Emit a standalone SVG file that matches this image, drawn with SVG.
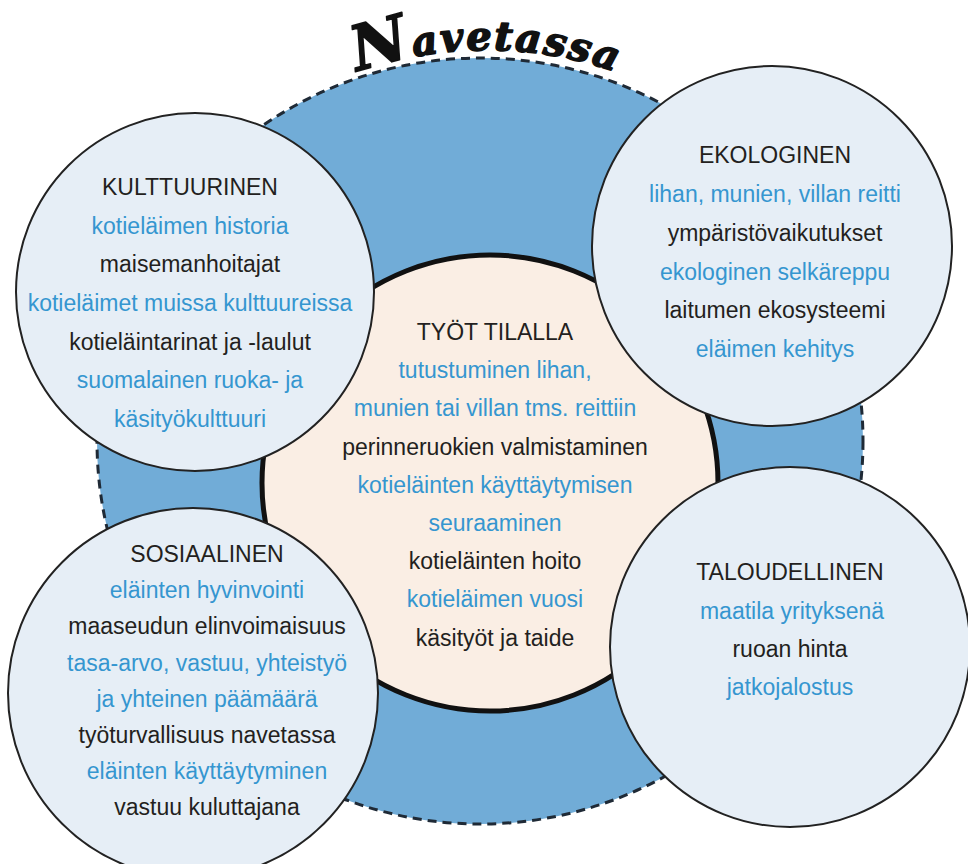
<svg xmlns="http://www.w3.org/2000/svg" width="968" height="864" viewBox="0 0 968 864">
<style>
.t{font-family:"Liberation Sans",Arial,sans-serif;font-size:23px;text-anchor:middle}
.k{fill:#231f20}
.b{fill:#3596d0}
.sat{fill:#e6eef6;stroke:#222;stroke-width:2}
.title{font-family:"DejaVu Serif",serif;font-weight:bold;font-style:italic;fill:#111;stroke:#111;stroke-width:1.6;stroke-linejoin:round}
</style>
<defs>
<path id="arc" d="M 96,441 A 391,391 0 0 1 878,441"/>
</defs>
<rect width="968" height="864" fill="#fff"/>
<g id="ring">
<circle cx="480" cy="441" r="383" fill="#71acd7" stroke="#1f2a36" stroke-width="3" stroke-dasharray="9 6"/>
</g>
<g id="title">
<text class="title" font-size="40" letter-spacing="2"><textPath href="#arc" startOffset="50%" text-anchor="middle"><tspan font-size="62">N</tspan>avetassa</textPath></text>
</g>
<g id="center">
<circle cx="490" cy="483" r="228" fill="#faeee4" stroke="#111" stroke-width="5"/>
<text class="t"><tspan class="k" x="495" y="340">TYÖT TILALLA</tspan><tspan class="b" x="495" y="378">tutustuminen lihan,</tspan><tspan class="b" x="495" y="416">munien tai villan tms. reittiin</tspan><tspan class="k" x="495" y="455">perinneruokien valmistaminen</tspan><tspan class="b" x="495" y="493">kotieläinten käyttäytymisen</tspan><tspan class="b" x="495" y="531">seuraaminen</tspan><tspan class="k" x="495" y="569">kotieläinten hoito</tspan><tspan class="b" x="495" y="607">kotieläimen vuosi</tspan><tspan class="k" x="495" y="646">käsityöt ja taide</tspan></text>
</g>
<g id="kulttuurinen">
<circle class="sat" cx="195" cy="292" r="179"/>
<text class="t"><tspan class="k" x="190" y="195">KULTTUURINEN</tspan><tspan class="b" x="190" y="234">kotieläimen historia</tspan><tspan class="k" x="190" y="272">maisemanhoitajat</tspan><tspan class="b" x="190" y="311">kotieläimet muissa kulttuureissa</tspan><tspan class="k" x="190" y="350">kotieläintarinat ja -laulut</tspan><tspan class="b" x="190" y="388">suomalainen ruoka- ja</tspan><tspan class="b" x="190" y="427">käsityökulttuuri</tspan></text>
</g>
<g id="ekologinen">
<circle class="sat" cx="772" cy="246" r="180"/>
<text class="t"><tspan class="k" x="775" y="163">EKOLOGINEN</tspan><tspan class="b" x="775" y="202">lihan, munien, villan reitti</tspan><tspan class="k" x="775" y="241">ympäristövaikutukset</tspan><tspan class="b" x="775" y="280">ekologinen selkäreppu</tspan><tspan class="k" x="775" y="318">laitumen ekosysteemi</tspan><tspan class="b" x="775" y="357">eläimen kehitys</tspan></text>
</g>
<g id="sosiaalinen">
<circle class="sat" cx="193" cy="693" r="185"/>
<text class="t"><tspan class="k" x="207" y="562">SOSIAALINEN</tspan><tspan class="b" x="207" y="598">eläinten hyvinvointi</tspan><tspan class="k" x="207" y="634">maaseudun elinvoimaisuus</tspan><tspan class="b" x="207" y="671">tasa-arvo, vastuu, yhteistyö</tspan><tspan class="b" x="207" y="707">ja yhteinen päämäärä</tspan><tspan class="k" x="207" y="743">työturvallisuus navetassa</tspan><tspan class="b" x="207" y="779">eläinten käyttäytyminen</tspan><tspan class="k" x="207" y="815">vastuu kuluttajana</tspan></text>
</g>
<g id="taloudellinen">
<circle class="sat" cx="790" cy="647" r="180"/>
<text class="t"><tspan class="k" x="790" y="580">TALOUDELLINEN</tspan><tspan class="b" x="792" y="619">maatila yrityksenä</tspan><tspan class="k" x="790" y="657">ruoan hinta</tspan><tspan class="b" x="790" y="695">jatkojalostus</tspan></text>
</g>
</svg>
